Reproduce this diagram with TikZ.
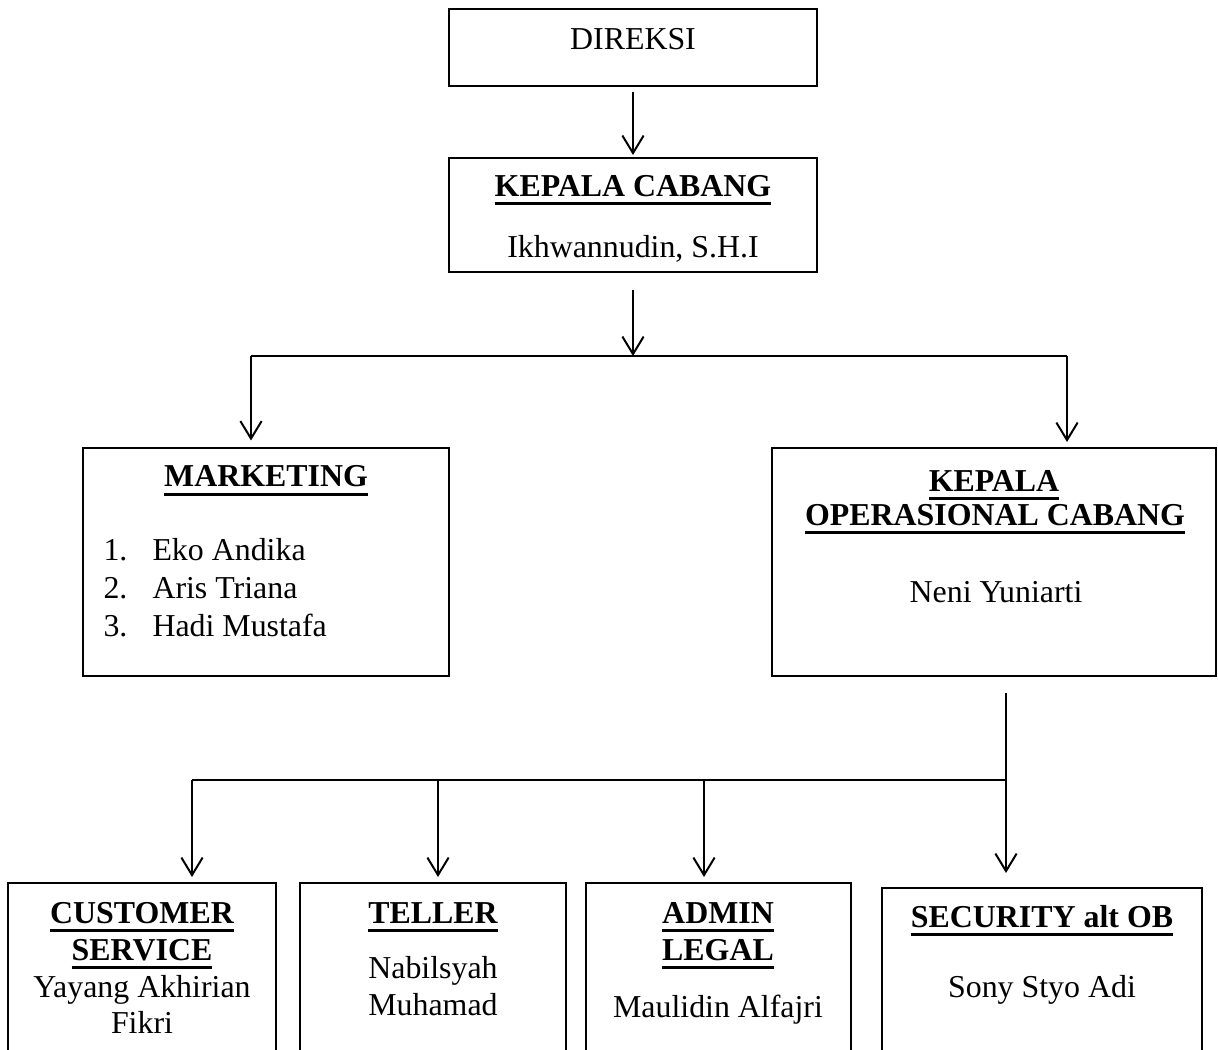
\documentclass[tikz,border=0pt]{standalone}
\usepackage{fontspec}
\setmainfont{Liberation Serif}
\usetikzlibrary{arrows.meta,fit}
\newcommand{\hdr}[1]{\setbox0=\hbox{\bfseries #1}\leavevmode\rlap{\rule[-3.4pt]{\wd0}{1.2pt}}\box0}

\begin{document}
\begin{tikzpicture}[x=0.4pt,y=-0.4pt,font=\fontsize{12.75}{15}\selectfont,
  box/.style={draw,line width=0.5pt,inner sep=0pt,outer sep=0pt},
  link/.style={line width=0.8pt},
  arr/.style={link,-{Straight Barb[length=7pt,width=8.5pt,line width=0.8pt]}}]
\useasboundingbox (0,0) rectangle (1218,1050);
\clip (0,0) rectangle (1218,1050);
% boxes (bottom row runs off the page)
\foreach \id/\xa/\ya/\xb/\yb in {dir/449/9/817/86,kc/449/158/817/272,mkt/83/448/449/676,kop/772/448/1216/676,
  cs/8/883/276/1120,tel/300/883/566/1120,adm/586/883/851/1120,sec/882/888/1202/1120}{
  \node[box,fit={(\xa,\ya) (\xb,\yb)}] (\id) {};
}
% centred lines of text
\foreach \i/\x/\y/\txt in {1/633/50/DIREKSI,2/633/197/{\hdr{KEPALA CABANG}},3/633/258/{Ikhwannudin, S.H.I},
  4/266/487/{\hdr{MARKETING}},5/994/492/{\hdr{KEPALA}},6/995/526/{\hdr{OPERASIONAL CABANG}},7/996/602/{Neni Yuniarti},
  8/142/923/{\hdr{CUSTOMER}},9/142/960/{\hdr{SERVICE}},10/142/997/{Yayang Akhirian},11/142/1033/Fikri,
  12/433/923/{\hdr{TELLER}},13/433/978/Nabilsyah,14/433/1015/Muhamad,
  15/718/923/{\hdr{ADMIN}},16/718/960/{\hdr{LEGAL}},17/718/1017/{Maulidin Alfajri},
  18/1042/927/{\hdr{SECURITY alt OB}},19/1042/997/{Sony Styo Adi}}{
  \node[anchor=base,inner sep=0pt] (t\i) at (\x,\y) {\txt};
}
% marketing list
\foreach \n/\y/\who in {1/560/{Eko Andika},2/598/{Aris Triana},3/636/{Hadi Mustafa}}{
  \node[anchor=base west,inner sep=0pt] (num\n) at (103,\y) {\n.};
  \node[anchor=base west,inner sep=0pt] (who\n) at (152,\y) {\who};
}
% connectors
\coordinate (hubA) at (633,356);
\coordinate (hubL) at (251,356);
\coordinate (hubR) at (1067,356);
\coordinate (hubB) at (1006,780);
\draw[arr,shorten <=2.4pt,shorten >=1.2pt] (dir) -- (kc);
\draw[arr,shorten <=7.2pt] (kc) -- (hubA);
\draw[link] (hubL) -- (hubR);
\draw[arr,shorten >=3pt] (hubL) -- (hubL |- mkt.north);
\draw[arr,shorten >=2.4pt] (hubR) -- (hubR |- kop.north);
\draw[link,shorten <=6.8pt] (hubB |- kop.south) -- (hubB);
\draw[arr,shorten >=6pt] (hubB) -- (hubB |- sec.north);
\foreach \x/\id in {192/cs,438/tel,704/adm}{
  \coordinate (d\id) at (\x,780);
  \draw[arr,shorten >=2.4pt] (d\id) -- (d\id |- \id.north);
}
\draw[link] (dcs) -- (hubB);
\end{tikzpicture}
\end{document}
